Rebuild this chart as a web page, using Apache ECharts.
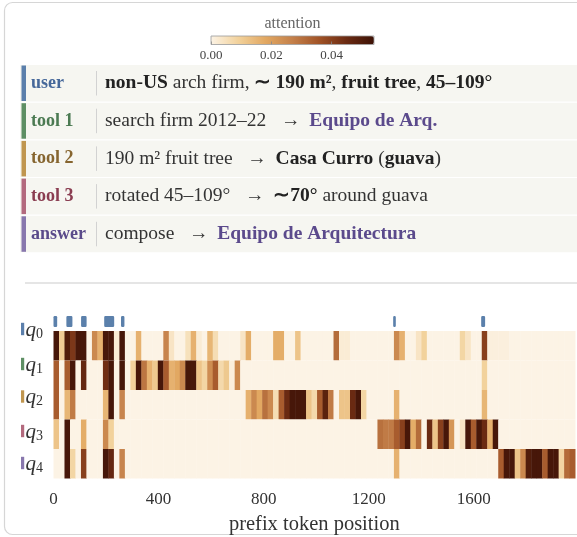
<!DOCTYPE html>
<html>
<head>
<meta charset="utf-8">
<script src="https://cdn.jsdelivr.net/npm/echarts@6.0.0/dist/echarts.min.js"></script>
<style>
  html, body { margin: 0; padding: 0; background: #fff; }
  #chart { width: 577px; height: 537px; }
</style>
</head>
<body>
<div id="chart"></div>
<script>
var SERIF = '"Liberation Serif", "Times New Roman", serif';

// heatmap columns: 95 bins of ~20.9 prefix tokens
var BIN = 20.9;
var xTicks = [0, 400, 800, 1200, 1600];
var cbTicks = [0, 0.02, 0.04];
var rowNames = ['q0', 'q1', 'q2', 'q3', 'q4'];

var attnQ0 = [
  0.052, 0.010, 0.050, 0.042, 0.052, 0.052, 0, 0.025, 0.016, 0.052,
  0.052, 0.002, 0.052, 0, 0, 0.016, 0, 0, 0, 0,
  0.026, 0.004, 0, 0, 0.005, 0.016, 0.002, 0, 0.015, 0.006,
  0, 0, 0, 0, 0.004, 0.017, 0, 0, 0, 0,
  0.017, 0.017, 0, 0, 0.012, 0, 0, 0, 0, 0,
  0, 0.031, 0.002, 0.002, 0, 0, 0, 0, 0, 0,
  0, 0, 0.025, 0.016, 0, 0, 0.004, 0.009, 0, 0,
  0, 0, 0, 0, 0.008, 0.004, 0, 0, 0.040, 0.001,
  0.001, 0.001, 0.001, 0, 0, 0, 0, 0, 0, 0,
  0, 0, 0, 0, 0
];
var attnQ1 = [
  0.034, 0, 0.034, 0.052, 0, 0.046, 0, 0, 0, 0.044,
  0.052, 0, 0.052, 0, 0.009, 0.052, 0.029, 0.016, 0.011, 0.052,
  0.034, 0.016, 0.018, 0.025, 0.052, 0.052, 0.012, 0.008, 0.024, 0.034,
  0.007, 0.011, 0.001, 0.025, 0, 0, 0, 0, 0, 0,
  0, 0, 0, 0, 0, 0, 0, 0, 0, 0,
  0, 0, 0, 0, 0, 0, 0, 0, 0, 0,
  0, 0, 0, 0, 0, 0, 0, 0, 0, 0,
  0, 0, 0, 0, 0, 0, 0, 0, 0.009, 0,
  0, 0, 0, 0, 0, 0, 0, 0, 0, 0,
  0, 0, 0, 0, 0
];
var attnQ2 = [
  0.034, 0, 0.015, 0.028, 0, 0, 0, 0, 0, 0.015,
  0.052, 0, 0.026, 0, 0, 0, 0, 0, 0, 0,
  0, 0, 0, 0, 0, 0, 0, 0, 0, 0,
  0, 0, 0, 0, 0, 0.016, 0.025, 0.018, 0.030, 0.025,
  0.006, 0.034, 0.045, 0.052, 0.052, 0.052, 0.012, 0.007, 0.034, 0.048,
  0.028, 0, 0.012, 0.012, 0.045, 0.052, 0.008, 0, 0, 0,
  0, 0, 0.016, 0, 0, 0, 0, 0, 0, 0,
  0, 0, 0, 0, 0, 0, 0, 0, 0.015, 0,
  0, 0, 0, 0, 0, 0, 0, 0, 0, 0,
  0, 0, 0, 0, 0
];
var attnQ3 = [
  0.012, 0, 0.052, 0, 0, 0.017, 0, 0, 0, 0.025,
  0.009, 0, 0, 0, 0, 0, 0, 0, 0, 0,
  0, 0, 0, 0, 0, 0, 0, 0, 0, 0,
  0, 0, 0, 0, 0, 0, 0, 0, 0, 0,
  0, 0, 0, 0, 0, 0, 0, 0, 0, 0,
  0, 0, 0, 0, 0, 0, 0, 0, 0, 0.030,
  0.028, 0.028, 0.034, 0.040, 0.052, 0.017, 0.031, 0, 0.045, 0.012,
  0.040, 0.052, 0.022, 0, 0.004, 0.052, 0.034, 0.052, 0.045, 0.016,
  0.052, 0, 0, 0, 0, 0, 0, 0, 0, 0,
  0, 0, 0, 0, 0
];
var attnQ4 = [
  0, 0, 0.052, 0.008, 0, 0.040, 0, 0, 0, 0.052,
  0.046, 0, 0.026, 0, 0, 0, 0, 0, 0, 0,
  0, 0, 0, 0, 0, 0, 0, 0, 0, 0,
  0, 0, 0, 0, 0, 0, 0, 0, 0, 0,
  0, 0, 0, 0, 0, 0, 0, 0, 0, 0,
  0, 0, 0, 0, 0, 0, 0, 0, 0, 0,
  0, 0, 0.016, 0, 0, 0, 0, 0, 0, 0,
  0, 0, 0, 0, 0, 0, 0, 0, 0, 0,
  0, 0.034, 0.052, 0.052, 0.012, 0.025, 0.050, 0.052, 0.052, 0.034,
  0.052, 0.052, 0.008, 0.031, 0.034
];
var attnRows = [attnQ0, attnQ1, attnQ2, attnQ3, attnQ4];

// user-token spans marked above the heatmap (token start / end)
var markStart = [0, 49, 105, 193, 257, 1293, 1628];
var markEnd = [14, 72, 126, 231, 270, 1303, 1643];

// trace rows in the top panel
var stepLabels = ['user', 'tool 1', 'tool 2', 'tool 3', 'answer'];
var stepTexts = [
  '{b|non-US} arch firm, {b|\u223C\u2009190 m\u00B2}, {b|fruit tree}, {b|45\u2013109\u00B0}',
  'search firm 2012\u201322 \u2002\u2192\u2009 {p|Equipo de Arq.}',
  '190 m\u00B2 fruit tree \u2002\u2192\u2009 {b|Casa Curro} ({b|guava})',
  'rotated 45\u2013109\u00B0 \u2002\u2192\u2009 {b|\u223C70\u00B0} around guava',
  'compose \u2002\u2192\u2009 {p|Equipo de Arquitectura}'
];
var stepBarColors = ['#5b7fab', '#5e8f64', '#c0964f', '#b36a7e', '#8877ad'];
var stepTextColors = ['#46689a', '#4b7a52', '#86652f', '#8a3d51', '#5a4a8a'];

var cmap = ['#fcf3e5', '#f2d29c', '#e2a862', '#c4804a', '#a05226', '#6a2a12', '#3d1206'];

var cells = [];
attnRows.forEach(function (row, r) {
  row.forEach(function (v, i) { cells.push([i * BIN, r, v]); });
});
var marks = markStart.map(function (s, i) { return [s, markEnd[i]]; });

function renderCell(params, api) {
  var x0 = api.value(0), r = api.value(1);
  var p0 = api.coord([x0, r]);
  var p1 = api.coord([x0 + BIN, r]);
  var h = api.size([0, 1])[1];
  return {
    type: 'rect',
    shape: { x: p0[0], y: p0[1] - h / 2, width: p1[0] - p0[0] + 0.4, height: h },
    style: { fill: api.visual('color') }
  };
}

function renderMark(params, api) {
  var a = api.coord([api.value(0), 0]);
  var b = api.coord([api.value(1), 0]);
  var top = params.coordSys.y;
  return {
    type: 'rect',
    shape: { x: a[0], y: top - 15, width: Math.max(b[0] - a[0], 2.5), height: 11, r: 1.2 },
    style: { fill: '#5b80ab' }
  };
}

var graphics = [];
graphics.push({
  type: 'rect', z: -1,
  shape: { x: 4.5, y: 2.5, width: 700, height: 532, r: 8 },
  style: { fill: '#fff', stroke: '#d6d6d6', lineWidth: 1.2 }
});

var ROW_TOP = 65, ROW_PITCH = 37.7, ROW_H = 36.5;
var BODY = 19.5;
stepLabels.forEach(function (lab, i) {
  var y0 = ROW_TOP + i * ROW_PITCH;
  var cy = y0 + ROW_H / 2;
  graphics.push({ type: 'rect', shape: { x: 20, y: y0, width: 600, height: ROW_H }, style: { fill: '#f6f6f1' } });
  graphics.push({ type: 'rect', shape: { x: 21.5, y: y0 + 0.5, width: 4.5, height: ROW_H - 1 }, style: { fill: stepBarColors[i] } });
  graphics.push({
    type: 'text', x: 31, y: cy,
    style: { text: lab, fontSize: 18, fontWeight: 'bold', fontFamily: SERIF, fill: stepTextColors[i], verticalAlign: 'middle' }
  });
  graphics.push({ type: 'line', shape: { x1: 96.5, y1: y0 + 6, x2: 96.5, y2: y0 + ROW_H - 6 }, style: { stroke: '#d2d2d2', lineWidth: 1 } });
  graphics.push({
    type: 'text', x: 105, y: cy,
    style: {
      text: stepTexts[i], fontSize: BODY, fontFamily: SERIF, fill: '#333', verticalAlign: 'middle',
      rich: {
        b: { fontSize: BODY, fontFamily: SERIF, fontWeight: 'bold', fill: '#222' },
        p: { fontSize: BODY, fontFamily: SERIF, fontWeight: 'bold', fill: '#5b4a8c' }
      }
    }
  });
});

graphics.push({ type: 'line', shape: { x1: 25, y1: 283, x2: 600, y2: 283 }, style: { stroke: '#dcdcdc', lineWidth: 1.5 } });

var qLabelY = [329, 364, 396.5, 431, 463];
rowNames.forEach(function (name, i) {
  graphics.push({ type: 'rect', shape: { x: 21, y: qLabelY[i] - 6.2, width: 3.2, height: 12.4 }, style: { fill: stepBarColors[i] } });
  graphics.push({
    type: 'text', x: 25.5, y: qLabelY[i] + 1,
    style: {
      text: '{q|q}{s|' + name.slice(1) + '}', verticalAlign: 'middle',
      rich: {
        q: { fontSize: 21, fontFamily: SERIF, fontStyle: 'italic', fill: '#333', lineHeight: 22 },
        s: { fontSize: 14, fontFamily: SERIF, fill: '#333', verticalAlign: 'bottom', lineHeight: 14, padding: [6, 0, 0, 0] }
      }
    }
  });
});

graphics.push({
  type: 'text', x: 292.5, y: 24,
  style: { text: 'attention', fontSize: 16, fontFamily: SERIF, fill: '#666', textAlign: 'center', verticalAlign: 'middle' }
});
graphics.push({
  type: 'rect', z: 100,
  shape: { x: 211, y: 36, width: 163, height: 8.5 },
  style: { fill: null, stroke: '#999', lineWidth: 0.8 }
});

var chart = echarts.init(document.getElementById('chart'));
chart.setOption({
  backgroundColor: '#fff',
  animation: false,
  graphic: { elements: graphics },
  grid: [
    { left: 53.5, top: 331, width: 521.6, height: 147.5 },
    { left: 211, top: 36, width: 163, height: 8.5 }
  ],
  xAxis: [
    {
      type: 'value', min: 0, max: BIN * 95,
      axisLine: { lineStyle: { color: '#4d5566', width: 1.5 } },
      axisTick: { customValues: xTicks, length: 5, lineStyle: { color: '#4d5566', width: 1.2 } },
      axisLabel: {
        customValues: xTicks, margin: 13, fontSize: 17, fontFamily: SERIF, color: '#333',
        formatter: function (v) { return String(v); }
      },
      splitLine: { show: false },
      name: 'prefix token position', nameLocation: 'middle', nameGap: 36,
      nameTextStyle: { fontSize: 20.5, fontFamily: SERIF, color: '#333' }
    },
    {
      gridIndex: 1, type: 'value', min: 0, max: 0.054, z: 10,
      axisLine: { show: false },
      axisTick: { customValues: cbTicks, inside: true, length: 3, lineStyle: { color: '#888', width: 0.8 } },
      axisLabel: {
        customValues: cbTicks, margin: 5, fontSize: 13, fontFamily: SERIF, color: '#444',
        formatter: function (v) { return v.toFixed(2); }
      },
      splitLine: { show: false }
    }
  ],
  yAxis: [
    {
      type: 'category', data: rowNames, inverse: true,
      axisLine: { show: false }, axisTick: { show: false }, axisLabel: { show: false }
    },
    { gridIndex: 1, type: 'value', show: false }
  ],
  visualMap: {
    type: 'continuous', seriesIndex: 0, dimension: 2, min: 0, max: 0.054,
    orient: 'horizontal', left: 211, top: 36, itemWidth: 8.5, itemHeight: 163,
    padding: 0, calculable: false, hoverLink: false,
    inRange: { color: cmap }
  },
  series: [
    { type: 'custom', renderItem: renderCell, data: cells, encode: { x: 0, y: 1 } },
    { type: 'custom', renderItem: renderMark, data: marks, encode: { x: [0, 1] } }
  ]
});
</script>
</body>
</html>
